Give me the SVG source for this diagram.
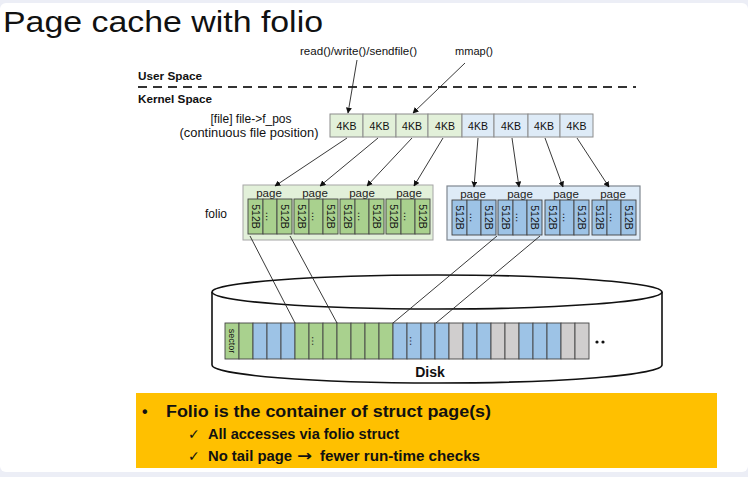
<svg xmlns="http://www.w3.org/2000/svg" width="748" height="477" viewBox="0 0 748 477">
<defs>
<style>
text{font-family:"Liberation Sans",Arial,sans-serif;fill:#111}
.t11{font-size:10.5px}
.kb{font-size:10.5px;text-anchor:middle}
.pg{font-size:11.5px;text-anchor:middle;fill:#222}
.rot{font-size:10.5px;text-anchor:middle;dominant-baseline:central}
.cg{fill:#e2f0d9;stroke:#8c8c8c;stroke-width:1}
.cb{fill:#deebf7;stroke:#8c8c8c;stroke-width:1}
.g{fill:#a9d18e;stroke:#444;stroke-width:0.9}
.b{fill:#9dc3e6;stroke:#444;stroke-width:0.9}
.s{fill:#d0cece;stroke:#444;stroke-width:0.9}
.ln{stroke:#222;stroke-width:0.9;fill:none}
.ar{stroke:#222;stroke-width:0.9;fill:none;marker-end:url(#ah)}
.bold{font-weight:bold}
.chk{font-family:"DejaVu Sans",sans-serif;font-size:14px}
</style>
<marker id="ah" viewBox="0 0 10 10" refX="9" refY="5" markerWidth="6" markerHeight="6" orient="auto" markerUnits="userSpaceOnUse">
<path d="M0,0 L10,5 L0,10 z" fill="#111"/>
</marker>
</defs>

<rect x="0" y="0" width="748" height="477" fill="#eceef6"/>
<rect x="0" y="3" width="748" height="469" rx="6" fill="#ffffff"/>

<text x="3" y="32" font-size="29" textLength="320" lengthAdjust="spacingAndGlyphs">Page cache with folio</text>

<g id="spaces">
<text x="138" y="80" font-size="11.5" class="bold" textLength="64" lengthAdjust="spacingAndGlyphs">User Space</text>
<line x1="138" y1="87" x2="636" y2="87" stroke="#333" stroke-width="1.8" stroke-dasharray="9,6"/>
<text x="138" y="103" font-size="11.5" class="bold" textLength="74" lengthAdjust="spacingAndGlyphs">Kernel Space</text>
</g>

<g id="syscalls">
<text x="300" y="55" class="t11" textLength="117" lengthAdjust="spacingAndGlyphs">read()/write()/sendfile()</text>
<text x="455" y="55" class="t11" textLength="38" lengthAdjust="spacingAndGlyphs">mmap()</text>
</g>

<g id="file-label">
<text x="251" y="123" font-size="12" text-anchor="middle">[file] file-&gt;f_pos</text>
<text x="249" y="137" font-size="12" text-anchor="middle" textLength="139" lengthAdjust="spacingAndGlyphs">(continuous file position)</text>
</g>

<g id="file-pages">
<rect class="cg" x="330" y="114" width="33" height="23"/>
<rect class="cg" x="363" y="114" width="33" height="23"/>
<rect class="cg" x="396" y="114" width="32" height="23"/>
<rect class="cg" x="428" y="114" width="34" height="23"/>
<rect class="cb" x="462" y="114" width="32" height="23"/>
<rect class="cb" x="494" y="114" width="34" height="23"/>
<rect class="cb" x="528" y="114" width="32" height="23"/>
<rect class="cb" x="560" y="114" width="33" height="23"/>
<text class="kb" x="346.5" y="129.5">4KB</text>
<text class="kb" x="379.5" y="129.5">4KB</text>
<text class="kb" x="412" y="129.5">4KB</text>
<text class="kb" x="445" y="129.5">4KB</text>
<text class="kb" x="478" y="129.5">4KB</text>
<text class="kb" x="511" y="129.5">4KB</text>
<text class="kb" x="544" y="129.5">4KB</text>
<text class="kb" x="576.5" y="129.5">4KB</text>
</g>

<text x="205" y="218" font-size="12">folio</text>

<g id="folio-green">
<rect x="243" y="185" width="190" height="55" fill="#e2f0d9" stroke="#a6a6a6" stroke-width="1"/>
<text class="pg" x="269" y="197">page</text>
<text class="pg" x="315" y="197">page</text>
<text class="pg" x="362" y="197">page</text>
<text class="pg" x="409" y="197">page</text>
<g id="gp1">
<rect class="g" x="248" y="199" width="15" height="35"/><rect class="g" x="263" y="199" width="14" height="35"/><rect class="g" x="277" y="199" width="15" height="35"/>
<text class="rot" transform="translate(255.5,216.5) rotate(90)">512B</text><text class="rot" transform="translate(270,216.5) rotate(90)">…</text><text class="rot" transform="translate(284.5,216.5) rotate(90)">512B</text>
</g>
<g id="gp2">
<rect class="g" x="294" y="199" width="15" height="35"/><rect class="g" x="309" y="199" width="14" height="35"/><rect class="g" x="323" y="199" width="15" height="35"/>
<text class="rot" transform="translate(301.5,216.5) rotate(90)">512B</text><text class="rot" transform="translate(316,216.5) rotate(90)">…</text><text class="rot" transform="translate(330.5,216.5) rotate(90)">512B</text>
</g>
<g id="gp3">
<rect class="g" x="340" y="199" width="15" height="35"/><rect class="g" x="355" y="199" width="14" height="35"/><rect class="g" x="369" y="199" width="15" height="35"/>
<text class="rot" transform="translate(347.5,216.5) rotate(90)">512B</text><text class="rot" transform="translate(362,216.5) rotate(90)">…</text><text class="rot" transform="translate(376.5,216.5) rotate(90)">512B</text>
</g>
<g id="gp4">
<rect class="g" x="386" y="199" width="15" height="35"/><rect class="g" x="401" y="199" width="14" height="35"/><rect class="g" x="415" y="199" width="15" height="35"/>
<text class="rot" transform="translate(393.5,216.5) rotate(90)">512B</text><text class="rot" transform="translate(408,216.5) rotate(90)">…</text><text class="rot" transform="translate(422.5,216.5) rotate(90)">512B</text>
</g>
</g>

<g id="folio-blue">
<rect x="447" y="186" width="193" height="54" fill="#deebf7" stroke="#7f8790" stroke-width="1.2"/>
<text class="pg" x="473" y="198">page</text>
<text class="pg" x="520" y="198">page</text>
<text class="pg" x="566" y="198">page</text>
<text class="pg" x="613" y="198">page</text>
<g id="bp1">
<rect class="b" x="452" y="200" width="15" height="35"/><rect class="b" x="467" y="200" width="14" height="35"/><rect class="b" x="481" y="200" width="15" height="35"/>
<text class="rot" transform="translate(459.5,217.5) rotate(90)">512B</text><text class="rot" transform="translate(474,217.5) rotate(90)">…</text><text class="rot" transform="translate(488.5,217.5) rotate(90)">512B</text>
</g>
<g id="bp2">
<rect class="b" x="498" y="200" width="15" height="35"/><rect class="b" x="513" y="200" width="14" height="35"/><rect class="b" x="527" y="200" width="15" height="35"/>
<text class="rot" transform="translate(505.5,217.5) rotate(90)">512B</text><text class="rot" transform="translate(520,217.5) rotate(90)">…</text><text class="rot" transform="translate(534.5,217.5) rotate(90)">512B</text>
</g>
<g id="bp3">
<rect class="b" x="545" y="200" width="15" height="35"/><rect class="b" x="560" y="200" width="14" height="35"/><rect class="b" x="574" y="200" width="15" height="35"/>
<text class="rot" transform="translate(552.5,217.5) rotate(90)">512B</text><text class="rot" transform="translate(567,217.5) rotate(90)">…</text><text class="rot" transform="translate(581.5,217.5) rotate(90)">512B</text>
</g>
<g id="bp4">
<rect class="b" x="592" y="200" width="15" height="35"/><rect class="b" x="607" y="200" width="14" height="35"/><rect class="b" x="621" y="200" width="15" height="35"/>
<text class="rot" transform="translate(599.5,217.5) rotate(90)">512B</text><text class="rot" transform="translate(614,217.5) rotate(90)">…</text><text class="rot" transform="translate(628.5,217.5) rotate(90)">512B</text>
</g>
</g>

<g id="disk">
<path d="M212,292 L212,365 A225,18 0 0 0 662,365 L662,292" fill="#ffffff" stroke="#111" stroke-width="1.6"/>
<ellipse cx="437" cy="292" rx="225" ry="17" fill="#ffffff" stroke="#111" stroke-width="1.6"/>
<g id="sectors">
<rect class="g" x="225" y="323" width="14" height="36"/>
<rect class="g" x="239" y="323" width="14" height="36"/>
<rect class="b" x="253" y="323" width="14" height="36"/>
<rect class="b" x="267" y="323" width="14" height="36"/>
<rect class="b" x="281" y="323" width="14" height="36"/>
<rect class="g" x="295" y="323" width="14" height="36"/>
<rect class="g" x="309" y="323" width="14" height="36"/>
<rect class="g" x="323" y="323" width="14" height="36"/>
<rect class="g" x="337" y="323" width="14" height="36"/>
<rect class="g" x="351" y="323" width="14" height="36"/>
<rect class="g" x="365" y="323" width="14" height="36"/>
<rect class="g" x="379" y="323" width="14" height="36"/>
<rect class="b" x="393" y="323" width="14" height="36"/>
<rect class="b" x="407" y="323" width="14" height="36"/>
<rect class="b" x="421" y="323" width="14" height="36"/>
<rect class="b" x="435" y="323" width="14" height="36"/>
<rect class="s" x="449" y="323" width="14" height="36"/>
<rect class="b" x="463" y="323" width="14" height="36"/>
<rect class="b" x="477" y="323" width="14" height="36"/>
<rect class="s" x="491" y="323" width="14" height="36"/>
<rect class="s" x="505" y="323" width="14" height="36"/>
<rect class="b" x="519" y="323" width="14" height="36"/>
<rect class="b" x="533" y="323" width="14" height="36"/>
<rect class="b" x="547" y="323" width="14" height="36"/>
<rect class="s" x="561" y="323" width="14" height="36"/>
<rect class="s" x="575" y="323" width="14" height="36"/>
<text class="rot" style="font-size:9px" transform="translate(232,341) rotate(90)">sector</text>
<text class="rot" transform="translate(316,341) rotate(90)">…</text>
<text class="rot" transform="translate(414,341) rotate(90)">…</text>
</g>
<circle cx="597" cy="342" r="1.6" fill="#111"/>
<circle cx="603" cy="342" r="1.6" fill="#111"/>
<text x="430" y="377" font-size="14" class="bold" text-anchor="middle">Disk</text>
</g>

<g id="connectors">
<line class="ar" x1="357" y1="60" x2="348" y2="113"/>
<line class="ar" x1="465" y1="63" x2="413" y2="113"/>
<line class="ar" x1="347" y1="138" x2="275" y2="186"/>
<line class="ar" x1="378" y1="138" x2="320" y2="186"/>
<line class="ar" x1="412" y1="138" x2="367" y2="186"/>
<line class="ar" x1="443" y1="138" x2="414" y2="186"/>
<line class="ar" x1="478" y1="138" x2="474" y2="187"/>
<line class="ar" x1="512" y1="138" x2="519" y2="187"/>
<line class="ar" x1="545" y1="138" x2="563" y2="187"/>
<line class="ar" x1="577" y1="138" x2="609" y2="187"/>
<line class="ln" x1="250" y1="236" x2="295" y2="323"/>
<line class="ln" x1="290" y1="236" x2="337" y2="323"/>
<line class="ln" x1="497" y1="236" x2="393" y2="323"/>
<line class="ln" x1="540" y1="236" x2="436" y2="323"/>
</g>

<g id="summary">
<rect x="136" y="393" width="581" height="75" fill="#ffc000"/>
<text x="142" y="417" font-size="16" class="bold">•</text>
<text x="166" y="417" font-size="16" class="bold" textLength="325" lengthAdjust="spacingAndGlyphs">Folio is the container of struct page(s)</text>
<text x="188" y="439" class="chk">✓</text>
<text x="208" y="439" font-size="14" class="bold" textLength="191" lengthAdjust="spacingAndGlyphs">All accesses via folio struct</text>
<text x="188" y="461" class="chk">✓</text>
<text x="208" y="461" font-size="14" class="bold" textLength="84" lengthAdjust="spacingAndGlyphs">No tail page</text>
<text x="297" y="461" font-size="15" class="bold" style="font-family:'DejaVu Sans',sans-serif" textLength="15" lengthAdjust="spacingAndGlyphs">→</text>
<text x="320" y="461" font-size="14" class="bold" textLength="160" lengthAdjust="spacingAndGlyphs">fewer run-time checks</text>
</g>
</svg>
